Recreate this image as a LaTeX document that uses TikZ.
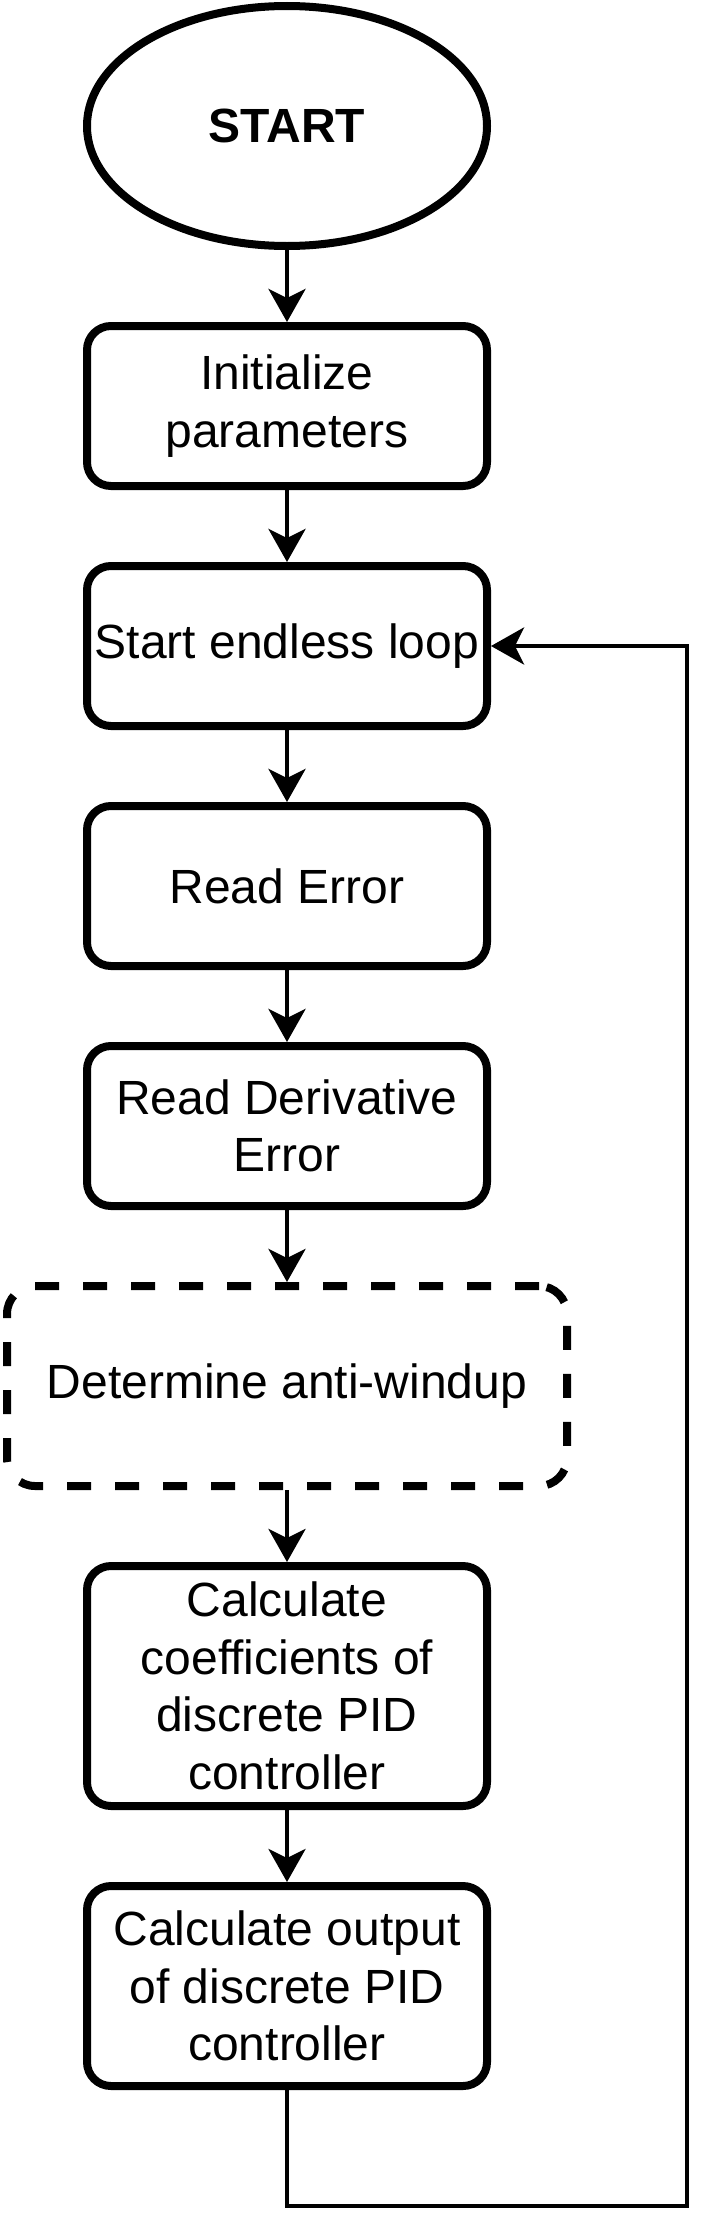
\documentclass[tikz,border=0pt]{standalone}
\usepackage{fontspec}
\setmainfont{Liberation Sans}
\usetikzlibrary{shapes.geometric,arrows.meta}
\begin{document}
\begin{tikzpicture}[x=1pt,y=-1pt,
  txt/.style={align=center, font=\fontsize{48}{57.6}\selectfont},
  box/.style={txt, draw, line width=8pt, rounded corners=24pt, minimum width=400pt, inner sep=0pt},
  dbox/.style={txt, draw, line width=8pt, dash pattern=on 24pt off 24pt, rounded corners=28pt, minimum width=560pt, minimum height=200pt, inner sep=0pt},
  oval/.style={txt, draw, ellipse, line width=8pt, minimum width=400pt, minimum height=240pt, inner sep=0pt},
  conn/.style={line width=4pt, -{Stealth[length=33pt,width=37pt,inset=9pt]}},
  plain/.style={line width=4pt}
]
\fill[white] (0,0) rectangle (720,2240);
\useasboundingbox (0,0) rectangle (720,2240);

\node[oval, font=\fontsize{48}{57.6}\selectfont\bfseries] (start) at (287,126) {START};
\node[box, minimum height=160pt] (init) at (287,406) {Initialize\\parameters};
\node[box, minimum height=160pt] (loop) at (287,646) {Start endless loop};
\node[box, minimum height=160pt] (err) at (287,886) {Read Error};
\node[box, minimum height=160pt] (derr) at (287,1126) {Read Derivative\\Error};
\node[dbox] (aw) at (287,1386) {Determine anti-windup};
\node[box, minimum height=240pt] (coef) at (287,1686) {Calculate\\coefficients of\\discrete PID\\controller};
\node[box, minimum height=200pt] (out) at (287,1986) {Calculate output\\of discrete PID\\controller};

\coordinate (c1) at (287,2206);
\coordinate (c2) at (687,2206);
\coordinate (c3) at (687,646);

\draw[conn] (start.south) -- (init.north);
\draw[conn] (init.south) -- (loop.north);
\draw[conn] (loop.south) -- (err.north);
\draw[conn] (err.south) -- (derr.north);
\draw[conn] (derr.south) -- (aw.north);
\draw[conn] (aw.south) -- (coef.north);
\draw[conn] (coef.south) -- (out.north);
\draw[conn] (out.south) -- (c1) -- (c2) -- (c3) -- (loop.east);
\end{tikzpicture}
\end{document}
